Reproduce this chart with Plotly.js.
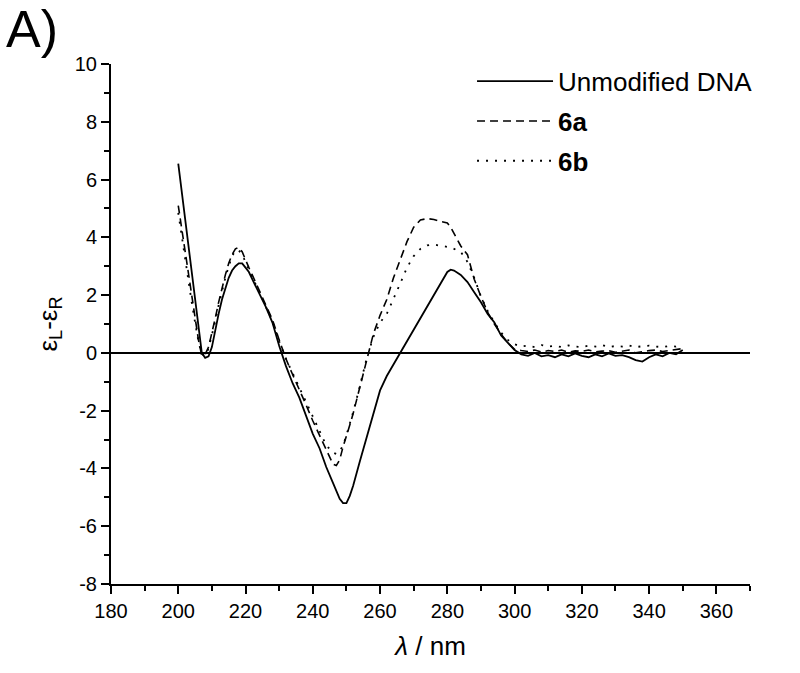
<!DOCTYPE html>
<html>
<head>
<meta charset="utf-8">
<script src="https://cdn.plot.ly/plotly-3.0.1.min.js"></script>
<style>
  html, body { margin: 0; padding: 0; background: #fff; }
  #plot { width: 800px; height: 673px; }
</style>
</head>
<body>
<div id="plot"></div>
<script>
// CD spectra: ε_L - ε_R vs wavelength (nm)
const wl = [200, 201, 202, 203, 204, 205, 206, 207, 208, 209, 210, 211, 212, 213, 214, 215, 216, 217, 218, 219,
  220, 221, 222, 224, 226, 228, 230, 232, 234, 236, 238, 240, 242, 244, 246, 247, 248, 249, 250, 251,
  252, 254, 256, 258, 260, 262, 264, 266, 268, 270, 272, 274, 276, 278, 280, 281, 282, 284, 286, 288,
  290, 292, 294, 296, 298, 300, 302, 304, 306, 308, 310, 312, 314, 316, 318, 320, 322, 324, 326, 328,
  330, 332, 334, 336, 338, 340, 342, 344, 346, 348, 350];

const unmodified = [6.55, 5.6, 4.7, 3.7, 2.65, 1.7, 0.8, 0.0, -0.17, -0.12, 0.2, 0.8, 1.35, 1.85, 2.25, 2.6, 2.85, 3.0, 3.1, 3.1,
  2.95, 2.8, 2.55, 2.1, 1.6, 1.05, 0.25, -0.45, -1.05, -1.55, -2.2, -2.8, -3.3, -3.95, -4.5, -4.75, -5.05, -5.2, -5.2, -4.95,
  -4.6, -3.75, -2.95, -2.1, -1.3, -0.8, -0.4, 0.0, 0.45, 0.85, 1.25, 1.65, 2.05, 2.45, 2.8, 2.88, 2.85, 2.7, 2.45, 2.1,
  1.75, 1.35, 1.05, 0.6, 0.35, 0.1, -0.05, -0.1, 0.0, -0.12, -0.08, -0.15, -0.05, -0.12, -0.02, -0.1, -0.15, -0.05, -0.12, -0.02,
  -0.1, -0.08, -0.15, -0.25, -0.3, -0.15, -0.05, -0.12, 0.0, -0.05, 0.1];

const cmpd6a = [5.1, 4.3, 3.5, 2.7, 1.9, 1.15, 0.45, -0.1, -0.05, 0.2, 0.65, 1.2, 1.75, 2.25, 2.7, 3.1, 3.4, 3.6, 3.65, 3.5,
  3.2, 2.95, 2.7, 2.2, 1.7, 1.15, 0.45, -0.2, -0.75, -1.25, -1.8, -2.35, -2.85, -3.4, -3.85, -3.9, -3.7, -3.25, -2.9, -2.5,
  -2.1, -1.2, -0.2, 0.65, 1.3, 1.85, 2.6, 3.2, 3.85, 4.35, 4.6, 4.65, 4.62, 4.55, 4.5, 4.35, 4.15, 3.7, 3.4, 2.55,
  1.95, 1.4, 1.0, 0.65, 0.35, 0.12, 0.08, 0.05, 0.1, 0.03, 0.08, 0.05, 0.1, 0.02, 0.07, 0.05, 0.1, 0.03, 0.06, 0.08,
  0.02, 0.05, 0.1, 0.0, 0.05, 0.08, 0.1, 0.05, 0.08, 0.12, 0.15];

const cmpd6b = [4.85, 4.05, 3.3, 2.5, 1.75, 1.05, 0.4, -0.05, -0.1, 0.15, 0.6, 1.1, 1.65, 2.15, 2.6, 3.0, 3.35, 3.55, 3.55, 3.4,
  3.15, 2.9, 2.65, 2.15, 1.65, 1.1, 0.4, -0.2, -0.7, -1.2, -1.7, -2.25, -2.75, -3.2, -3.45, -3.5, -3.4, -3.2, -2.85, -2.45,
  -2.05, -1.15, -0.2, 0.55, 1.05, 1.35, 1.85, 2.4, 2.95, 3.35, 3.6, 3.72, 3.75, 3.72, 3.68, 3.65, 3.6, 3.5, 3.15, 2.6,
  1.95, 1.45, 1.05, 0.7, 0.45, 0.3, 0.22, 0.25, 0.2, 0.27, 0.22, 0.25, 0.2, 0.26, 0.22, 0.2, 0.25, 0.22, 0.27, 0.2,
  0.24, 0.22, 0.26, 0.2, 0.23, 0.25, 0.22, 0.2, 0.24, 0.22, 0.28];

const names = ['Unmodified DNA', '<b>6a</b>', '<b>6b</b>'];
const yTicks = [-8, -6, -4, -2, 0, 2, 4, 6, 8, 10];
const yTickText = ['-8', '-6', '-4', '-2', '0', '2', '4', '6', '8', '10'];
const xTicks = [180, 200, 220, 240, 260, 280, 300, 320, 340, 360];

const FONT = 'Arial, "Liberation Sans", sans-serif';

const traces = [
  { x: wl, y: unmodified, name: names[0], mode: 'lines', line: { color: '#000', width: 1.8 }, legendgroup: 'a' },
  { x: wl, y: cmpd6a, name: names[1], mode: 'lines', line: { color: '#000', width: 1.6, dash: '8px,5px' }, legendgroup: 'b' },
  { x: wl, y: cmpd6b, name: names[2], mode: 'lines', line: { color: '#000', width: 1.8, dash: '2px,7px' }, legendgroup: 'c' },
];

const axis = {
  showline: true, linecolor: '#000', linewidth: 2, mirror: false,
  ticks: 'outside', ticklen: 8, tickwidth: 2, tickcolor: '#000',
  showgrid: false, zeroline: false,
  tickfont: { family: FONT, size: 20, color: '#000' },
};

const layout = {
  width: 800, height: 673,
  paper_bgcolor: '#fff', plot_bgcolor: '#fff',
  margin: { l: 111, r: 50, t: 64, b: 89 },
  font: { family: FONT, color: '#000' },
  showlegend: true,
  legend: {
    x: 0.565, y: 1.012, xanchor: 'left', yanchor: 'top',
    font: { family: FONT, size: 26, color: '#000' },
    bgcolor: 'rgba(0,0,0,0)', tracegroupgap: 3, itemwidth: 76,
  },
  xaxis: {
    ...axis, range: [180, 370], tickvals: xTicks,
    minor: { dtick: 10, ticks: 'outside', ticklen: 5, tickwidth: 2, tickcolor: '#000' },
    title: { text: '<i>λ</i> / nm', font: { family: FONT, size: 26 }, standoff: 16 },
  },
  yaxis: {
    ...axis, range: [-8, 10], tickvals: yTicks, ticktext: yTickText,
    minor: { dtick: 1, ticks: 'outside', ticklen: 5, tickwidth: 2, tickcolor: '#000' },
    zeroline: true, zerolinecolor: '#000', zerolinewidth: 1.5,
    title: { text: 'ε<sub>L</sub>-ε<sub>R</sub>', font: { family: FONT, size: 26 }, standoff: 10 },
  },
  annotations: [
    { text: 'A)', xref: 'paper', yref: 'paper', x: -0.168, y: 1.068, xanchor: 'left', yanchor: 'middle',
      showarrow: false, font: { family: FONT, size: 52, color: '#000' } },
  ],
};

Plotly.newPlot('plot', traces, layout, { staticPlot: true });
</script>
</body>
</html>
